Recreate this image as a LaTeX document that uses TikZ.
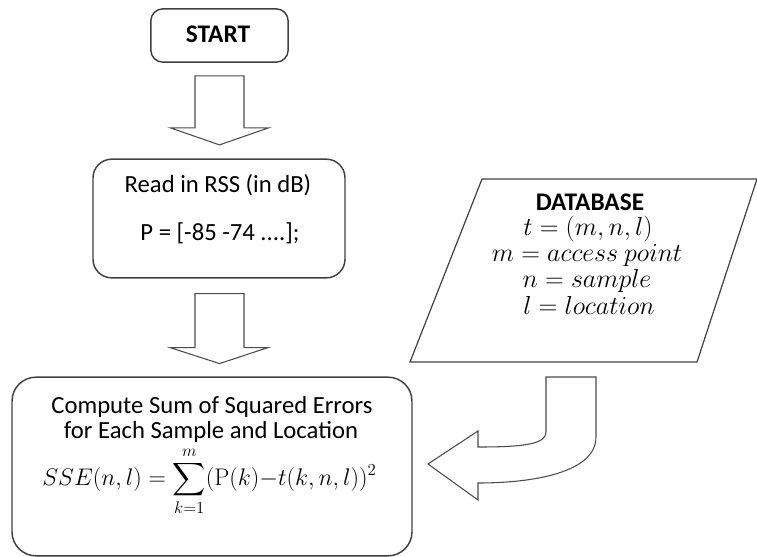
\RequirePackage{fix-cm}
\documentclass[tikz,border=0pt]{standalone}
\usepackage{amsmath}
\usepackage[no-math]{fontspec}
\setmainfont{Carlito}
\usetikzlibrary{positioning}
\usetikzlibrary{calc}

\tikzset{
  stepbox/.style={draw=black!75,line width=1.1pt,rounded corners=14pt,align=center},
  steptext/.style={font=\fontsize{18.5pt}{22pt}\selectfont,align=center,inner sep=0pt},
  dbmath/.style={steptext,font=\fontsize{19.5pt}{23pt}\selectfont},
  blockarrow/.style={draw=black!70,line width=0.8pt,fill=white,line join=miter},
}

\begin{document}
\begin{tikzpicture}[x=0.75pt,y=-0.75pt]
\useasboundingbox (0,0) rectangle (757,557);

\node (start) at (219.5,35.5) [stepbox,rounded corners=9pt,minimum width=103pt,minimum height=40pt] {};
\node (starttxt) at (218,34) [steptext,font=\fontsize{19pt}{22pt}\selectfont] {\textbf{START}};
\node (read) at (219,218.5) [stepbox,minimum width=189pt,minimum height=89pt] {};
\node (readtxt) at (218,185.5) [steptext] {Read in RSS (in dB)};
\node (ptxt) at (220,233) [steptext] {P = [-85 -74 ....];};
\node (sse) at (212,466.5) [stepbox,rounded corners=18pt,minimum width=300pt,minimum height=134pt] {};
\node (ssetxt1) at (212,407) [steptext] {Compute Sum of Squared Errors};
\node (ssetxt2) at (211,432) [steptext] {for Each Sample and Location};
\node (ssemath) at (209.5,481) [steptext,font=\fontsize{18pt}{22pt}\selectfont] {$\displaystyle SSE(n,l)=\sum_{k=1}^{m}(\mathrm{P}(k){-}t(k,n,l))^{2}$};

\coordinate (d1) at (482,179);
\coordinate (d2) at (757,179);
\coordinate (d3) at (697,362);
\coordinate (d4) at (410,362);
\draw[draw=black!75,line width=0.9pt] (d1) -- (d2) -- (d3) -- (d4) -- cycle;
\node (db1) at (590,202) [steptext,font=\fontsize{19pt}{22pt}\selectfont] {\textbf{DATABASE}};
\node (db2) at (588,229) [dbmath] {$t=(m,n,l)$};
\node (db3) at (587,256) [dbmath] {$m=access\ point$};
\node (db4) at (587,281) [dbmath] {$n=sample$};
\node (db5) at (589,305) [dbmath] {$l=location$};

% block arrows
\draw[blockarrow] ($(start.south)+(-24.5,13)$) -- ($(start.south)+(24.5,13)$) -- ($(start.south)+(24.5,65)$)
  -- ($(start.south)+(49,65)$) -- ($(start.south)+(0,82)$) -- ($(start.south)+(-49,65)$) -- ($(start.south)+(-24.5,65)$) -- cycle;
\draw[blockarrow] ($(read.south)+(-24,15)$) -- ($(read.south)+(25,15)$) -- ($(read.south)+(25,69)$)
  -- ($(read.south)+(49,69)$) -- ($(read.south)+(0.5,85)$) -- ($(read.south)+(-49,69)$) -- ($(read.south)+(-24,69)$) -- cycle;

\coordinate (c1) at (546,377);
\coordinate (c2) at (596,377);
\coordinate (c3) at (596,437);
\coordinate (c4) at (478,483);
\coordinate (c5) at (478,500);
\coordinate (c6) at (428,464);
\coordinate (c7) at (478,431);
\coordinate (c8) at (478,447);
\coordinate (c9) at (546,432);
\draw[blockarrow] (c1) -- (c2) -- (c3) .. controls (596,472) and (535,483) .. (c4) -- (c5) -- (c6) -- (c7) -- (c8)
  .. controls (525,447) and (546,444) .. (c9) -- cycle;
\end{tikzpicture}
\end{document}
